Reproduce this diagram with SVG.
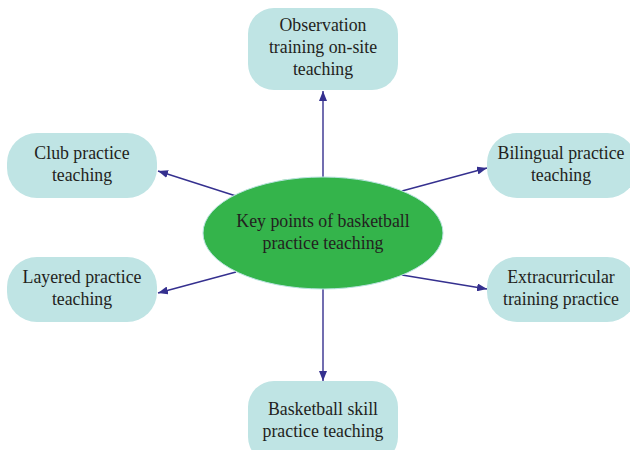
<svg xmlns="http://www.w3.org/2000/svg" width="630" height="450" viewBox="0 0 630 450">
<defs>
<marker id="ah" markerWidth="10" markerHeight="8" refX="10" refY="4" orient="auto" markerUnits="userSpaceOnUse">
<path d="M0,0 L10,4 L0,8 z" fill="#35308f"/>
</marker>
<style>
.box{fill:#bfe4e4;stroke:none}
.t{font-family:"Liberation Serif","Times New Roman",serif;font-size:17.8px;fill:#231f20;text-anchor:middle}
.c{stroke:#35308f;stroke-width:1.4;fill:none;marker-end:url(#ah)}
</style>
</defs>
<rect width="630" height="450" fill="#ffffff"/>
<g id="connectors">
<line class="c" x1="323" y1="177" x2="323" y2="91"/>
<line class="c" x1="236" y1="196" x2="158" y2="171"/>
<line class="c" x1="236" y1="272" x2="158" y2="293"/>
<line class="c" x1="402" y1="191" x2="487" y2="168"/>
<line class="c" x1="402" y1="275" x2="487" y2="289"/>
<line class="c" x1="323" y1="289" x2="323" y2="381"/>
</g>
<g id="center">
<ellipse cx="323" cy="233" rx="120" ry="56" fill="#34b44b" stroke="#b9e3e0" stroke-width="1"/>
<text class="t" x="323" y="227">Key points of basketball</text>
<text class="t" x="323" y="249">practice teaching</text>
</g>
<g id="n-observation">
<rect class="box" x="248" y="8" width="150" height="82" rx="26"/>
<text class="t" x="323" y="31">Observation</text>
<text class="t" x="323" y="53">training on-site</text>
<text class="t" x="323" y="75">teaching</text>
</g>
<g id="n-club">
<rect class="box" x="7" y="133" width="150" height="65" rx="30"/>
<text class="t" x="82" y="159">Club practice</text>
<text class="t" x="82" y="181">teaching</text>
</g>
<g id="n-layered">
<rect class="box" x="7" y="257" width="150" height="65" rx="30"/>
<text class="t" x="82" y="283">Layered practice</text>
<text class="t" x="82" y="305">teaching</text>
</g>
<g id="n-bilingual">
<rect class="box" x="487" y="133" width="150" height="65" rx="30"/>
<text class="t" x="561" y="159">Bilingual practice</text>
<text class="t" x="561" y="181">teaching</text>
</g>
<g id="n-extra">
<rect class="box" x="487" y="257" width="150" height="65" rx="30"/>
<text class="t" x="561" y="283">Extracurricular</text>
<text class="t" x="561" y="305">training practice</text>
</g>
<g id="n-skill">
<rect class="box" x="248" y="381" width="150" height="82" rx="26"/>
<text class="t" x="323" y="415">Basketball skill</text>
<text class="t" x="323" y="437">practice teaching</text>
</g>
</svg>
